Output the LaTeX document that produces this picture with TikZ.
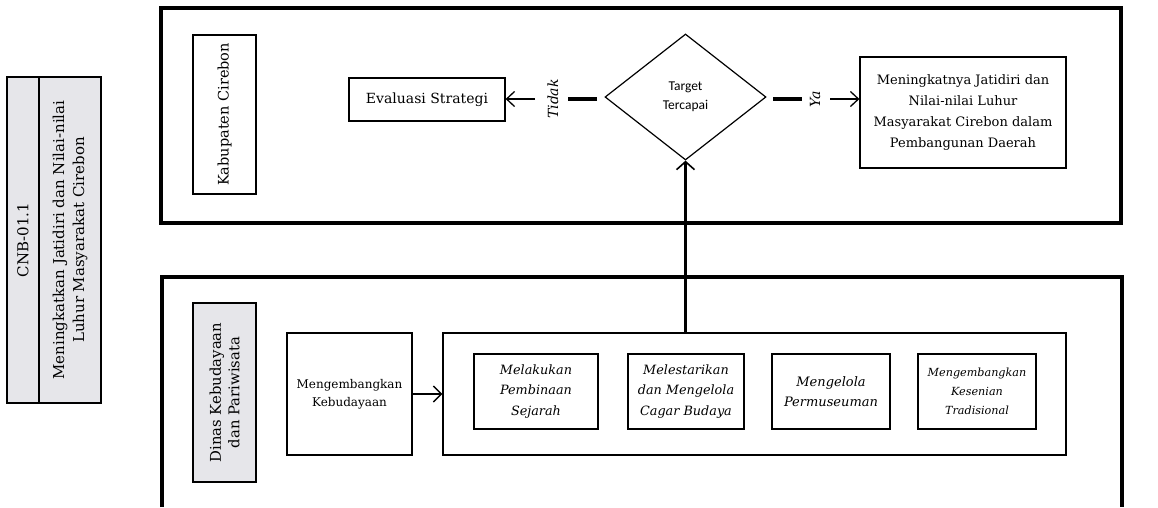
\documentclass[tikz,border=0pt]{standalone}
\usepackage{fontspec}
\setmainfont{DejaVu Serif}
\newfontfamily\carl{Carlito}
\usetikzlibrary{arrows.meta,shapes.geometric}
\definecolor{boxgray}{HTML}{E6E6EA}
\begin{document}
\begin{tikzpicture}[x=1pt,y=-1pt,
  frame/.style={line width=3.2pt},
  box/.style={draw, line width=1.2pt, inner sep=0pt, align=center},
  graybox/.style={box, fill=boxgray},
  conn/.style={line width=1.3pt, -{Straight Barb[length=8pt,width=15pt]}},
  thickconn/.style={line width=2.8pt, -{Straight Barb[length=8pt,width=18pt,line width=1.6pt]}},
  dashseg/.style={line width=3.2pt},
  lbl/.style={inner sep=0pt, rotate=90, font=\fontsize{14}{16}\selectfont\itshape}
]
\useasboundingbox (0,0) rectangle (1158,507);
% left identification box
\node[graybox, rotate=90, minimum width=326pt, minimum height=32pt, font=\fontsize{15}{18}\selectfont] (code) at (23,240) {CNB-01.1};
\node[graybox, rotate=90, minimum width=326pt, minimum height=62pt, font=\fontsize{15}{20}\selectfont] (goal) at (70,240) {Meningkatkan Jatidiri dan Nilai-nilai\\Luhur Masyarakat Cirebon};
% frames
\draw[frame] (161,8) rectangle (1121,223);
\draw[frame] (162,507) -- (162,277) -- (1122,277) -- (1122,507);
% top section
\node[box, rotate=90, minimum width=159pt, minimum height=63pt, font=\fontsize{14.5}{16}\selectfont] (kab) at (224.5,114.5) {Kabupaten Cirebon};
\node[box, minimum width=156pt, minimum height=43pt, font=\fontsize{14}{16}\selectfont] (eval) at (427,99.5) {Evaluasi Strategi};
\node[draw, diamond, line width=1.2pt, inner sep=0pt, minimum width=161pt, minimum height=126pt, align=center, font=\carl\fontsize{13.5}{18.5}\selectfont] (dia) at (685.5,97) {Target\\Tercapai};
\node[box, minimum width=206pt, minimum height=111pt, font=\fontsize{13}{21}\selectfont] (hasil) at (963,112.5) {Meningkatnya Jatidiri dan\\Nilai-nilai Luhur\\Masyarakat Cirebon dalam\\Pembangunan Daerah};
\node[lbl] (tidak) at (553,99) {Tidak};
\node[lbl] (ya) at (815,99) {Ya};
\coordinate (td1) at (597,99);
\coordinate (td2) at (568,99);
\coordinate (ta) at (535,99);
\coordinate (yd1) at (773,99);
\coordinate (yd2) at (802,99);
\coordinate (ya1) at (830,99);
\draw[dashseg] (td1) -- (td2);
\draw[conn] (ta) -- (eval.east |- ta);
\draw[dashseg] (yd1) -- (yd2);
\draw[conn] (ya1) -- (hasil.west |- ya1);
% bottom section
\node[graybox, rotate=90, minimum width=179pt, minimum height=63pt, font=\fontsize{14.8}{18.5}\selectfont] (dinas) at (224.5,392.5) {Dinas Kebudayaan\\dan Pariwisata};
\node[box, minimum width=125pt, minimum height=122pt, font=\fontsize{12}{18}\selectfont] (kegiatan) at (349.5,394) {Mengembangkan\\Kebudayaan};
\node[box, minimum width=623pt, minimum height=122pt] (prog) at (754.5,394) {};
\node[box, minimum width=124pt, minimum height=75pt, font=\fontsize{12.8}{20.5}\selectfont\itshape] (p1) at (536,391.5) {Melakukan\\Pembinaan\\Sejarah};
\node[box, minimum width=116pt, minimum height=75pt, font=\fontsize{12.8}{20.5}\selectfont\itshape] (p2) at (686,391.5) {Melestarikan\\dan Mengelola\\Cagar Budaya};
\node[box, minimum width=118pt, minimum height=75pt, font=\fontsize{13}{20.5}\selectfont\itshape] (p3) at (831,391.5) {Mengelola\\Permuseuman};
\node[box, minimum width=118pt, minimum height=75pt, font=\fontsize{11.2}{19}\selectfont\itshape] (p4) at (977,391.5) {Mengembangkan\\Kesenian\\Tradisional};
\draw[line width=2.2pt, -{Straight Barb[length=8pt,width=16pt,line width=1.4pt]}] (kegiatan.east) -- (prog.west);
\draw[thickconn] (prog.north -| dia.south) -- (dia.south);
\end{tikzpicture}
\end{document}
